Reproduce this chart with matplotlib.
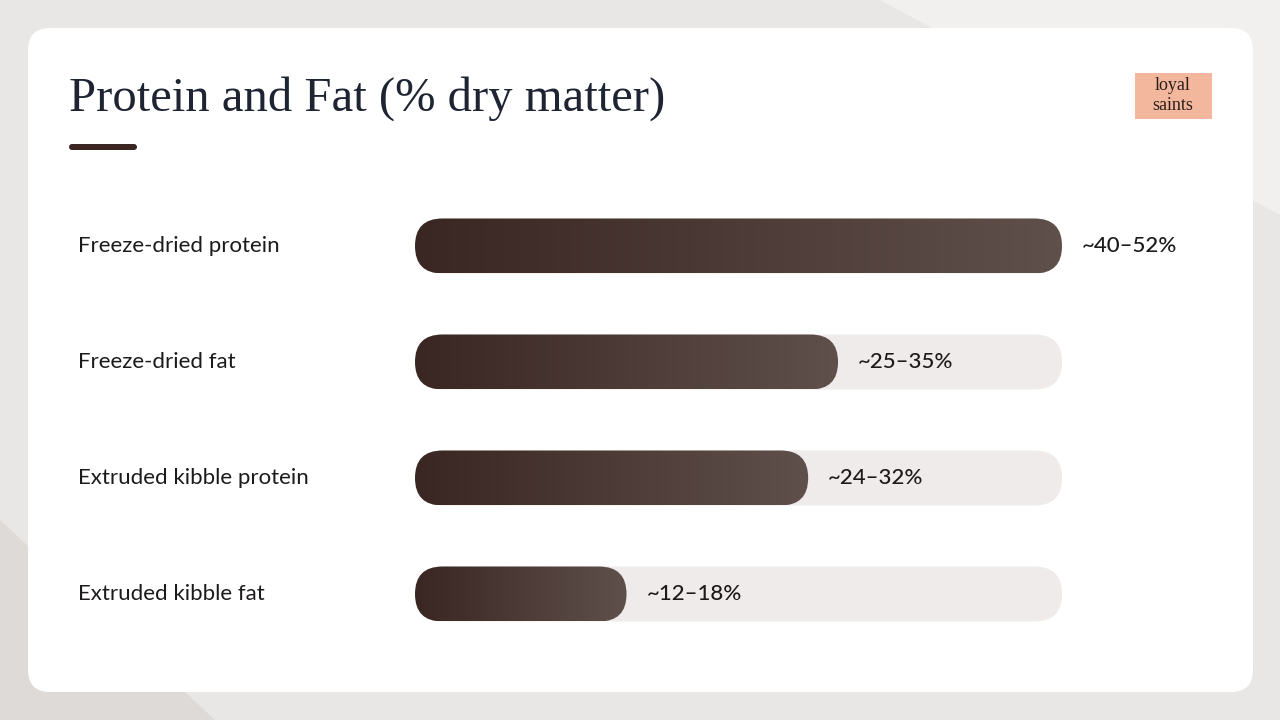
import numpy as np
import matplotlib.pyplot as plt
from matplotlib.patches import FancyBboxPatch, Polygon

# data
categories = ["Freeze-dried protein", "Freeze-dried fat", "Extruded kibble protein", "Extruded kibble fat"]
upper = [52, 34, 31.6, 17]
value_labels = ["~40–52%", "~25–35%", "~24–32%", "~12–18%"]
scale_max = 52

fig = plt.figure(figsize=(12.8, 7.2), dpi=100)
fig.patch.set_facecolor("#e9e7e6")

# page backdrop + white card (pixel coordinates)
bg = fig.add_axes([0, 0, 1, 1])
bg.set_xlim(0, 1280)
bg.set_ylim(720, 0)
bg.axis("off")
bg.add_patch(Polygon([[880, 0], [1280, 0], [1280, 215]], closed=True, color="#f1f0ef", lw=0))
bg.add_patch(Polygon([[0, 520], [0, 720], [215, 720]], closed=True, color="#dddad8", lw=0))
bg.add_patch(FancyBboxPatch((28, 28), 1225, 664, boxstyle="round,pad=0,rounding_size=22",
                            fc="white", ec="none", mutation_aspect=1))
bg.text(69, 99, "Protein and Fat (% dry matter)", fontsize=35, family="Liberation Serif",
        color="#1f2433", va="center", ha="left")
bg.add_patch(FancyBboxPatch((69, 144), 68, 6, boxstyle="round,pad=0,rounding_size=3",
                            fc="#3a2724", ec="none"))
# logo
bg.add_patch(plt.Rectangle((1135, 73), 77, 46, color="#f2b79c", lw=0))
bg.text(1173, 86, "loyal", fontsize=13, family="Liberation Serif", color="#2a1e1b", ha="center", va="center")
bg.text(1173, 106, "saints", fontsize=13, family="Liberation Serif", color="#2a1e1b", ha="center", va="center")

for i, c in enumerate(categories):
    bg.text(78, 246 + 116 * i, c, fontsize=16, family="Lato", color="#1d1a1a", va="center", ha="left")

# bar axes: track spans x 415..1062 px, rows centered at 246 + 116*i
left, right, top, bottom = 415, 1062, 188, 652
ax = fig.add_axes([left / 1280, 1 - bottom / 720, (right - left) / 1280, (bottom - top) / 720])
ax.set_xlim(0, scale_max)
ax.set_ylim(len(categories) - 0.5, -0.5)
ax.axis("off")
ax.patch.set_alpha(0)

h = 55 / 116
xpp = scale_max / (right - left)
asp = (1 / 116) / xpp
rs = 27.5 * xpp
grad = np.linspace(0, 1, 256)[None, :]
from matplotlib.colors import LinearSegmentedColormap
cmap = LinearSegmentedColormap.from_list("brown", ["#3a2622", "#5f504c"])

for i, v in enumerate(upper):
    track = FancyBboxPatch((0, i - h / 2), scale_max, h, boxstyle=f"round,pad=0,rounding_size={rs}",
                           mutation_aspect=asp, fc="#eeebea", ec="none")
    ax.add_patch(track)
    bar = FancyBboxPatch((0, i - h / 2), v, h, boxstyle=f"round,pad=0,rounding_size={rs}",
                         mutation_aspect=asp, fc="none", ec="none")
    ax.add_patch(bar)
    im = ax.imshow(grad, extent=(0, v, i + h / 2, i - h / 2), cmap=cmap, aspect="auto", zorder=2)
    im.set_clip_path(bar)
    ax.text(v + 20 * xpp, i, value_labels[i], fontsize=16, family="Lato", weight="medium",
            color="#1d1a1a", va="center", ha="left", clip_on=False)

ax.set_xlim(0, scale_max)
ax.set_ylim(len(categories) - 0.5, -0.5)
fig.savefig("out.png", dpi=100, facecolor=fig.get_facecolor())
